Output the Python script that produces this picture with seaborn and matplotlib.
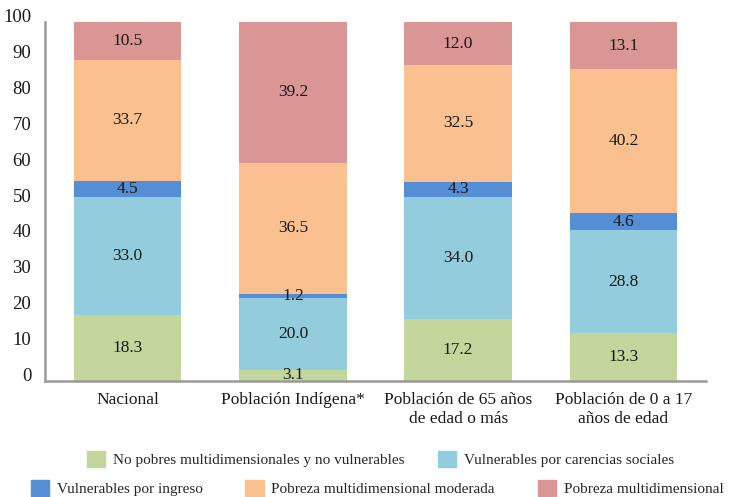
import numpy as np
import pandas as pd
import matplotlib
matplotlib.use("Agg")
import matplotlib.pyplot as plt
import matplotlib.patches as mpatches
import seaborn as sns

# Données
categories = ["Nacional", "Población Indígena*", "Población de 65 años\nde edad o más",
              "Población de 0 a 17\naños de edad"]
series = ["No pobres multidimensionales y no vulnerables",
          "Vulnerables por carencias sociales",
          "Vulnerables por ingreso",
          "Pobreza multidimensional moderada",
          "Pobreza multidimensional"]
no_pobres = [18.3, 3.1, 17.2, 13.3]
vuln_carencias = [33.0, 20.0, 34.0, 28.8]
vuln_ingreso = [4.5, 1.2, 4.3, 4.6]
pobreza_moderada = [33.7, 36.5, 32.5, 40.2]
pobreza_extrema = [10.5, 39.2, 12.0, 13.1]
colors = ["#c3d69b", "#93cddd", "#558ed5", "#fac090", "#d99694"]

values = np.array([no_pobres, vuln_carencias, vuln_ingreso, pobreza_moderada, pobreza_extrema])
cum = values.cumsum(axis=0)

sns.set_style("white")
FAMILY = ["Liberation Serif", "DejaVu Serif"]
plt.rcParams["font.family"] = FAMILY

fig = plt.figure(figsize=(7.32, 4.97), dpi=100)
ax = fig.add_axes([0.0615, 0.2334, 0.9030, 0.7223])

# Barres empilées : on superpose les sommes cumulées, de la plus haute à la plus basse
for i in range(len(series) - 1, -1, -1):
    df = pd.DataFrame({"cat": categories, "val": cum[i]})
    sns.barplot(data=df, x="cat", y="val", color=colors[i], saturation=1,
                width=0.65, ax=ax, linewidth=0)

# Étiquettes des valeurs
for i in range(len(series)):
    for j in range(len(categories)):
        y = cum[i, j] - values[i, j] / 2
        ax.text(j, y, f"{values[i, j]:.1f}", ha="center", va="center",
                fontsize=12.5, color="#1a1a1a", family=FAMILY)

ax.set_xlim(-0.5, 3.5)
ax.set_ylim(0, 100)
ax.set_yticks(range(0, 101, 10))
ax.set_xlabel("")
ax.set_ylabel("")
ax.tick_params(axis="y", labelsize=13.5, length=0, pad=10, labelcolor="#1a1a1a")
ax.tick_params(axis="x", labelsize=12.5, length=0, pad=8, labelcolor="#1a1a1a")
for lab in ax.get_yticklabels():
    lab.set_verticalalignment("baseline")
    lab.set_family(FAMILY)
for lab in ax.get_xticklabels():
    lab.set_family(FAMILY)
sns.despine(ax=ax, top=True, right=True)
for s in ["left", "bottom"]:
    ax.spines[s].set_color("#999999")
    ax.spines[s].set_linewidth(1.8)

# Légende sur deux lignes
handles = [mpatches.Patch(color=c, label=s) for c, s in zip(colors, series)]
leg_kw = dict(frameon=False, handlelength=1.2, handleheight=1.2, handletextpad=0.5,
              prop={"family": FAMILY, "size": 11})
fig.legend(handles=handles[:2], loc="center", bbox_to_anchor=(0.52, 0.076), ncol=2,
           columnspacing=2.2, **leg_kw)
fig.legend(handles=handles[2:], loc="center", bbox_to_anchor=(0.515, 0.018), ncol=3,
           columnspacing=2.8, **leg_kw)

fig.savefig("out.png", dpi=100)
plt.close(fig)
